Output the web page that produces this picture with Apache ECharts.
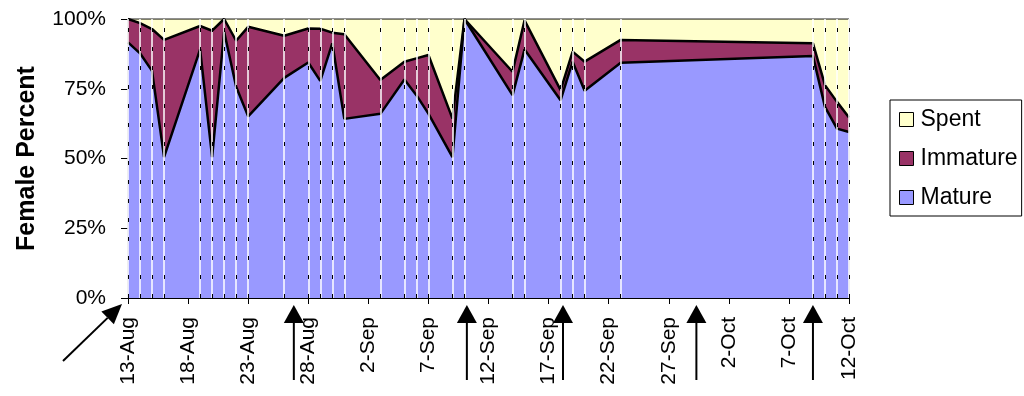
<!DOCTYPE html>
<html>
<head>
<meta charset="utf-8">
<script src="https://cdn.jsdelivr.net/npm/echarts@6/dist/echarts.min.js"></script>
<style>
html,body{margin:0;padding:0;background:#fff;}
#chart{width:1024px;height:396px;}
</style>
</head>
<body>
<div id="chart"></div>
<script>
// sample dates (month-day)
var sampleDates = ['08-13','08-14','08-15','08-16','08-19','08-20','08-21','08-22','08-23','08-26',
  '08-28','08-29','08-30','08-31','09-03','09-05','09-06','09-07','09-09','09-10',
  '09-14','09-15','09-18','09-19','09-20','09-23','10-09','10-10','10-11','10-12'];
var mature   = [91.6,87.7,81.4,50.5,89.1,50.5,95.4,75.7,65.1,78.9,
  84.4,77.8,91.3,64.2,66.0,78.3,72.7,66.1,50.5,100,
  72.7,89.1,70.9,84.7,74.3,84.3,86.7,68.5,60.7,59.5];
var immature = [8.4,10.8,15.0,42.0,8.4,45.3,4.6,16.5,32.1,15.1,
  12.2,18.7,3.8,30.3,12.1,6.4,13.2,21.0,13.8,0,
  8.4,10.4,3.6,3.6,10.4,8.2,4.6,7.8,9.6,5.2];
var spent    = [0,1.5,3.6,7.5,2.5,4.2,0,7.8,2.8,6.0,
  3.4,3.5,4.9,5.5,21.9,15.3,14.1,12.9,35.7,0,
  18.9,0.5,25.5,11.7,15.3,7.5,8.7,23.7,29.7,35.3];
var tickLabels = ['13-Aug','18-Aug','23-Aug','28-Aug','2-Sep','7-Sep','12-Sep','17-Sep','22-Sep','27-Sep','2-Oct','7-Oct','12-Oct'];
var yTickLabels = ['0%','25%','50%','75%','100%'];
// arrow annotations (days after 13-Aug)
var arrowDays = [13.8, 28.2, 36.2, 47.3, 57.0];

var FONT = 'Liberation Sans, Arial, sans-serif';
function dayOf(md){
  var p = md.split('-');
  return Math.round((Date.UTC(2001, +p[0]-1, +p[1]) - Date.UTC(2001, 7, 13)) / 86400000);
}
var days = sampleDates.map(dayOf);
// value first, day second: the stack is then computed on the percent dimension
function pairs(arr){ return arr.map(function(v,i){ return [v, days[i]]; }); }

var vlines = [];
days.forEach(function(d){ vlines.push({xAxis:d, lineStyle:{color:'#ffffff', width:1.5, type:'solid'}}); });
days.forEach(function(d){ vlines.push({xAxis:d, lineStyle:{color:'#000000', width:1, type:[4,15]}}); });

var chart = echarts.init(document.getElementById('chart'), null, {renderer:'canvas'});
var option = {
  animation:false,
  textStyle:{fontFamily:FONT},
  grid:{left:128, right:175, top:19, bottom:98, outerBoundsMode:'none', containLabel:false,
    show:true, borderColor:'#808080', borderWidth:1, backgroundColor:'transparent'},
  legend:{
    orient:'vertical', left:890, top:100,
    data:['Spent','Immature','Mature'],
    icon:'rect', itemWidth:14, itemHeight:14, itemGap:16,
    padding:[8,4,7,9],
    borderColor:'#000', borderWidth:1,
    itemStyle:{borderColor:'#000', borderWidth:1},
    textStyle:{fontFamily:FONT, fontSize:23, color:'#000', padding:[0,0,0,2]}
  },
  xAxis:{
    type:'value', min:0, max:60, interval:5,
    axisLine:{show:true, lineStyle:{color:'#000', width:1}},
    axisTick:{show:true, length:6, lineStyle:{color:'#000'}},
    splitLine:{show:false},
    axisLabel:{rotate:90, margin:19, fontSize:21, color:'#000', fontFamily:FONT,
      showMinLabel:true, showMaxLabel:true, hideOverlap:false,
      formatter:function(v){ return tickLabels[Math.round(v/5)]; }}
  },
  yAxis:{
    type:'value', min:0, max:100, interval:25,
    name:'Female Percent', nameLocation:'middle', nameRotate:90, nameGap:88,
    nameTextStyle:{fontFamily:FONT, fontSize:25, fontWeight:'bold', color:'#000'},
    axisLine:{show:true, lineStyle:{color:'#000', width:1}},
    axisTick:{show:true, length:7, lineStyle:{color:'#000'}},
    splitLine:{show:false},
    axisLabel:{margin:22, fontSize:21, color:'#000', fontFamily:FONT,
      formatter:function(v){ return yTickLabels[Math.round(v/25)]; }}
  },
  series:[
    {name:'Mature', type:'line', stack:'t', encode:{x:1,y:0}, data:pairs(mature), symbol:'none',
      color:'#9999FF', lineStyle:{color:'#000', width:2.5}, areaStyle:{color:'#9999FF', opacity:1}, z:2},
    {name:'Immature', type:'line', stack:'t', encode:{x:1,y:0}, data:pairs(immature), symbol:'none',
      color:'#993366', lineStyle:{color:'#000', width:2.5}, areaStyle:{color:'#993366', opacity:1}, z:2},
    {name:'Spent', type:'line', stack:'t', encode:{x:1,y:0}, data:pairs(spent), symbol:'none',
      color:'#FFFFCC', lineStyle:{color:'#000', width:1}, areaStyle:{color:'#FFFFCC', opacity:1}, z:2,
      markLine:{silent:true, symbol:['none','none'], label:{show:false}, data:vlines, z:5}}
  ]
};
chart.setOption(option);

function arrow(tip, tail, head, half){
  var dx = tip[0]-tail[0], dy = tip[1]-tail[1];
  var len = Math.sqrt(dx*dx+dy*dy); var ux = dx/len, uy = dy/len;
  var bx = tip[0]-ux*head, by = tip[1]-uy*head;
  return [
    {type:'line', shape:{x1:tail[0], y1:tail[1], x2:bx, y2:by}, style:{stroke:'#000', lineWidth:2}},
    {type:'polygon', shape:{points:[tip,[bx-uy*half, by+ux*half],[bx+uy*half, by-ux*half]]}, style:{fill:'#000'}}
  ];
}
var origin = chart.convertToPixel({gridIndex:0}, [0,0]);
var els = [];
els = els.concat(arrow([origin[0]-6, origin[1]+6], [origin[0]-65, origin[1]+63], 20, 9));
arrowDays.forEach(function(d){
  var x = chart.convertToPixel({gridIndex:0}, [d,0])[0];
  els = els.concat(arrow([x, origin[1]+7], [x, origin[1]+82], 18, 10));
});
chart.setOption({graphic:{elements:els}});
</script>
</body>
</html>
